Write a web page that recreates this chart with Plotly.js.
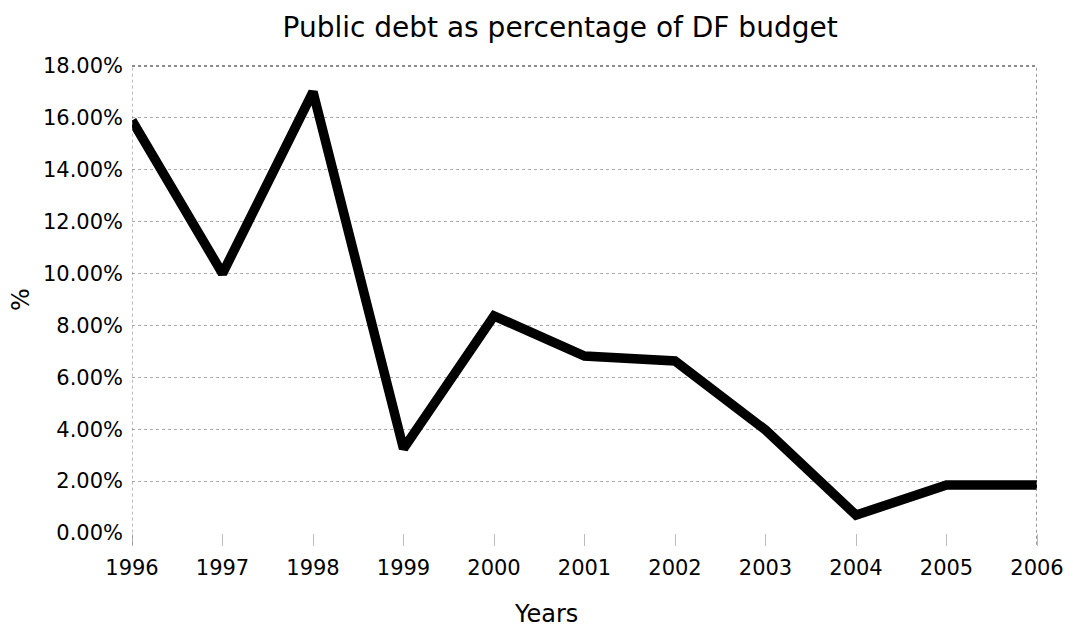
<!DOCTYPE html>
<html>
<head>
<meta charset="utf-8">
<script src="https://cdn.plot.ly/plotly-3.0.1.min.js"></script>
<style>html,body{margin:0;padding:0;background:#fff;}#chart{width:1073px;height:631px;}</style>
</head>
<body>
<div id="chart"></div>
<script>
const years = [1996, 1997, 1998, 1999, 2000, 2001, 2002, 2003, 2004, 2005, 2006];
const debtPct = [0.159, 0.100, 0.170, 0.0325, 0.0837, 0.0682, 0.0663, 0.0397, 0.0069, 0.0185, 0.0185];
const yTicks = [0, 0.02, 0.04, 0.06, 0.08, 0.10, 0.12, 0.14, 0.16, 0.18];

const font = "DejaVu Sans, Verdana, sans-serif";
const trace = {
  x: years, y: debtPct, type: 'scatter', mode: 'lines',
  line: {color: '#000', width: 9.5, shape: 'linear'},
  hoverinfo: 'skip', cliponaxis: false
};
const layout = {
  width: 1073, height: 631,
  margin: {l: 132, r: 36, t: 66, b: 98},
  paper_bgcolor: '#fff', plot_bgcolor: '#fff',
  showlegend: false,
  title: {text: 'Public debt as percentage of DF budget', x: 0.522, xanchor: 'center', y: 0.957, yanchor: 'middle',
          font: {family: font, size: 28, color: '#000'}},
  xaxis: {
    range: [1996, 2006], tickvals: years, ticktext: years.map(String),
    showgrid: false, zeroline: false, showline: false,
    ticks: 'outside', ticklen: 12, tickcolor: '#bbb', tickwidth: 1,
    ticklabelstandoff: 4,
    tickfont: {family: font, size: 21, color: '#000'}
  },
  yaxis: {
    range: [0, 0.18], tickvals: yTicks, tickformat: '.2%',
    showgrid: true, gridcolor: '#aaa', griddash: 'dot', gridwidth: 1,
    zeroline: false, showline: false, ticks: '', ticklen: 4,
    ticklabelstandoff: 8,
    tickfont: {family: font, size: 21, color: '#000'},
    title: {text: '%', font: {family: font, size: 24, color: '#000'}, standoff: 6}
  },
  annotations: [
    {text: 'Years', xref: 'paper', yref: 'paper', x: (546 - 132) / 905, y: -0.174, xanchor: 'center', yanchor: 'middle',
     showarrow: false, font: {family: font, size: 24, color: '#000'}}
  ],
  shapes: [
    {type: 'line', xref: 'x', yref: 'paper', x0: 1996, x1: 1996, y0: -0.025, y1: 1, line: {color: '#777', width: 1, dash: 'dot'}},
    {type: 'line', xref: 'x', yref: 'paper', x0: 2006, x1: 2006, y0: -0.025, y1: 1, line: {color: '#777', width: 1.5, dash: 'dot'}},
    {type: 'line', xref: 'paper', yref: 'paper', x0: 0, x1: 1, y0: 1, y1: 1, line: {color: '#666', width: 1.5, dash: 'dot'}}
  ]
};
Plotly.newPlot('chart', [trace], layout, {staticPlot: true, displayModeBar: false});
</script>
</body>
</html>
